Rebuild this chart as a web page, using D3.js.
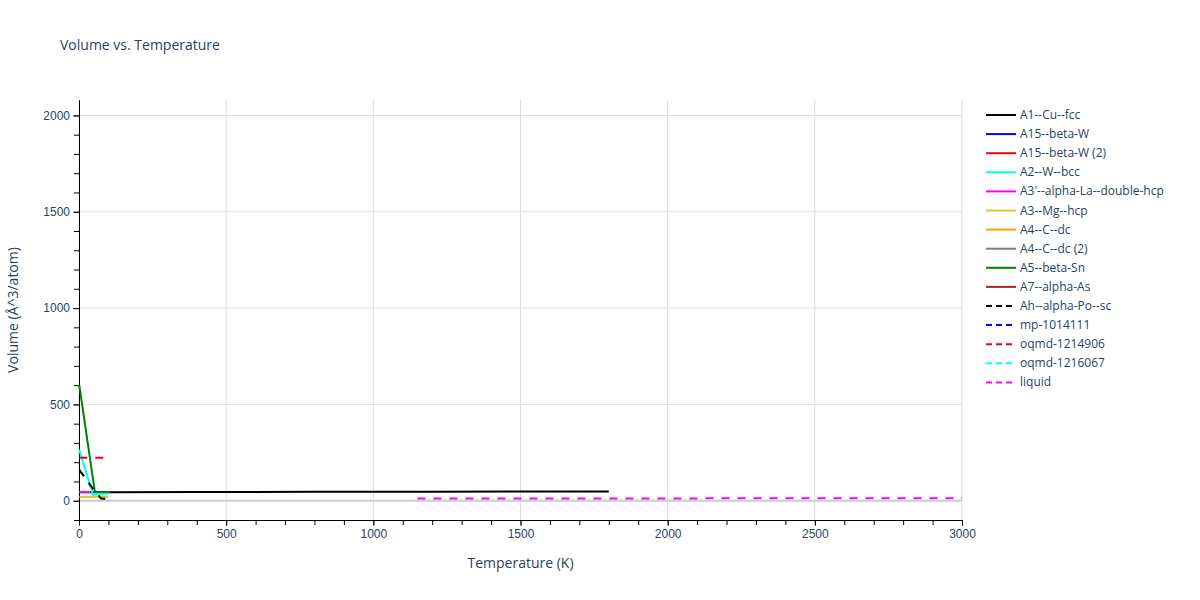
<!DOCTYPE html><html><head><script src="https://cdn.jsdelivr.net/npm/d3@7"></script>
<style>body{margin:0;font-family:"Open Sans",sans-serif;}</style></head><body><svg id="c" width="1200" height="600"></svg>
<script>
const names=["A1--Cu--fcc","A15--beta-W","A15--beta-W (2)","A2--W--bcc","A3'--alpha-La--double-hcp","A3--Mg--hcp","A4--C--dc","A4--C--dc (2)","A5--beta-Sn","A7--alpha-As","Ah--alpha-Po--sc","mp-1014111","oqmd-1214906","oqmd-1216067","liquid"];
const colors=["black","blue","red","cyan","magenta","#f0c020","orange","gray","green","brown","black","blue","red","cyan","magenta"];
const dashed=[0,0,0,0,0,0,0,0,0,0,1,1,1,1,1];
const temps=[[1,100,400,800,1200,1800],[],[],[1,48,60,100],[1,40],[1,100],[],[],[1,54,105],[],[1,50,75,100],[],[1,100],[],[1150,1500,2000,2500,3000]];
const vols=[[44,44.5,45,46,47,48],[],[],[265,30,35,36],[45,45],[20,20],[],[],[600,45,45],[],[160,57,12,10],[],[223,223],[],[12,12,12,13,13]];
const xTicks=[0,500,1000,1500,2000,2500,3000], yTicks=[0,500,1000,1500,2000];
const svg=d3.select("#c"), L=79,R=962,T=100,B=520;
const x=d3.scaleLinear().domain([0,3000]).range([L,R]);
const y=d3.scaleLinear().domain([-100,2080]).range([B,T]);
const g=svg.append("g");
xTicks.forEach(t=>g.append("line").attr("x1",x(t)).attr("x2",x(t)).attr("y1",T).attr("y2",B).attr("stroke","#ddd"));
yTicks.forEach(t=>g.append("line").attr("x1",L).attr("x2",R).attr("y1",y(t)).attr("y2",y(t)).attr("stroke",t==0?"#ccc":"#ddd").attr("stroke-width",t==0?2:1));
const xa=svg.append("g").attr("transform",`translate(0,${B})`).call(d3.axisBottom(x).tickValues(xTicks).tickFormat(d3.format("d")).tickSizeOuter(0));
const ya=svg.append("g").attr("transform",`translate(${L},0)`).call(d3.axisLeft(y).tickValues(yTicks).tickFormat(d3.format("d")).tickSizeOuter(0));
svg.append("g").attr("transform",`translate(0,${B})`).call(d3.axisBottom(x).ticks(30).tickSize(5).tickFormat("").tickSizeOuter(0));
svg.append("g").attr("transform",`translate(${L},0)`).call(d3.axisLeft(y).tickValues(d3.range(-100,2080,100)).tickSize(5).tickFormat("").tickSizeOuter(0));
[xa,ya].forEach(a=>{a.selectAll("text").attr("fill","#2a3f5f").style("font-size","12px");a.selectAll("line").attr("stroke","#444");});
svg.selectAll(".domain").attr("stroke","#000");
const line=d3.line().x(d=>x(d[0])).y(d=>y(d[1]));
names.forEach((n,i)=>{if(!temps[i].length)return;
 svg.append("path").datum(temps[i].map((t,j)=>[t,vols[i][j]])).attr("d",line).attr("fill","none").attr("stroke",colors[i]).attr("stroke-width",2).attr("stroke-dasharray",dashed[i]?"8,8":null);});
svg.append("text").attr("x",60).attr("y",50).text("Volume vs. Temperature").attr("fill","#2a3f5f").style("font-size","14px");
svg.append("text").attr("x",(L+R)/2).attr("y",568).attr("text-anchor","middle").text("Temperature (K)").attr("fill","#2a3f5f").style("font-size","14px");
svg.append("text").attr("transform",`translate(18,${(T+B)/2}) rotate(-90)`).attr("text-anchor","middle").text("Volume (Å^3/atom)").attr("fill","#2a3f5f").style("font-size","14px");
names.forEach((n,i)=>{const yy=115+i*19.1;
 svg.append("line").attr("x1",986).attr("x2",1016).attr("y1",yy).attr("y2",yy).attr("stroke",colors[i]).attr("stroke-width",2).attr("stroke-dasharray",dashed[i]?"6,4":null);
 svg.append("text").attr("x",1020).attr("y",yy+4).text(n).attr("fill","#2a3f5f").style("font-size","12px");});
</script></body></html>
